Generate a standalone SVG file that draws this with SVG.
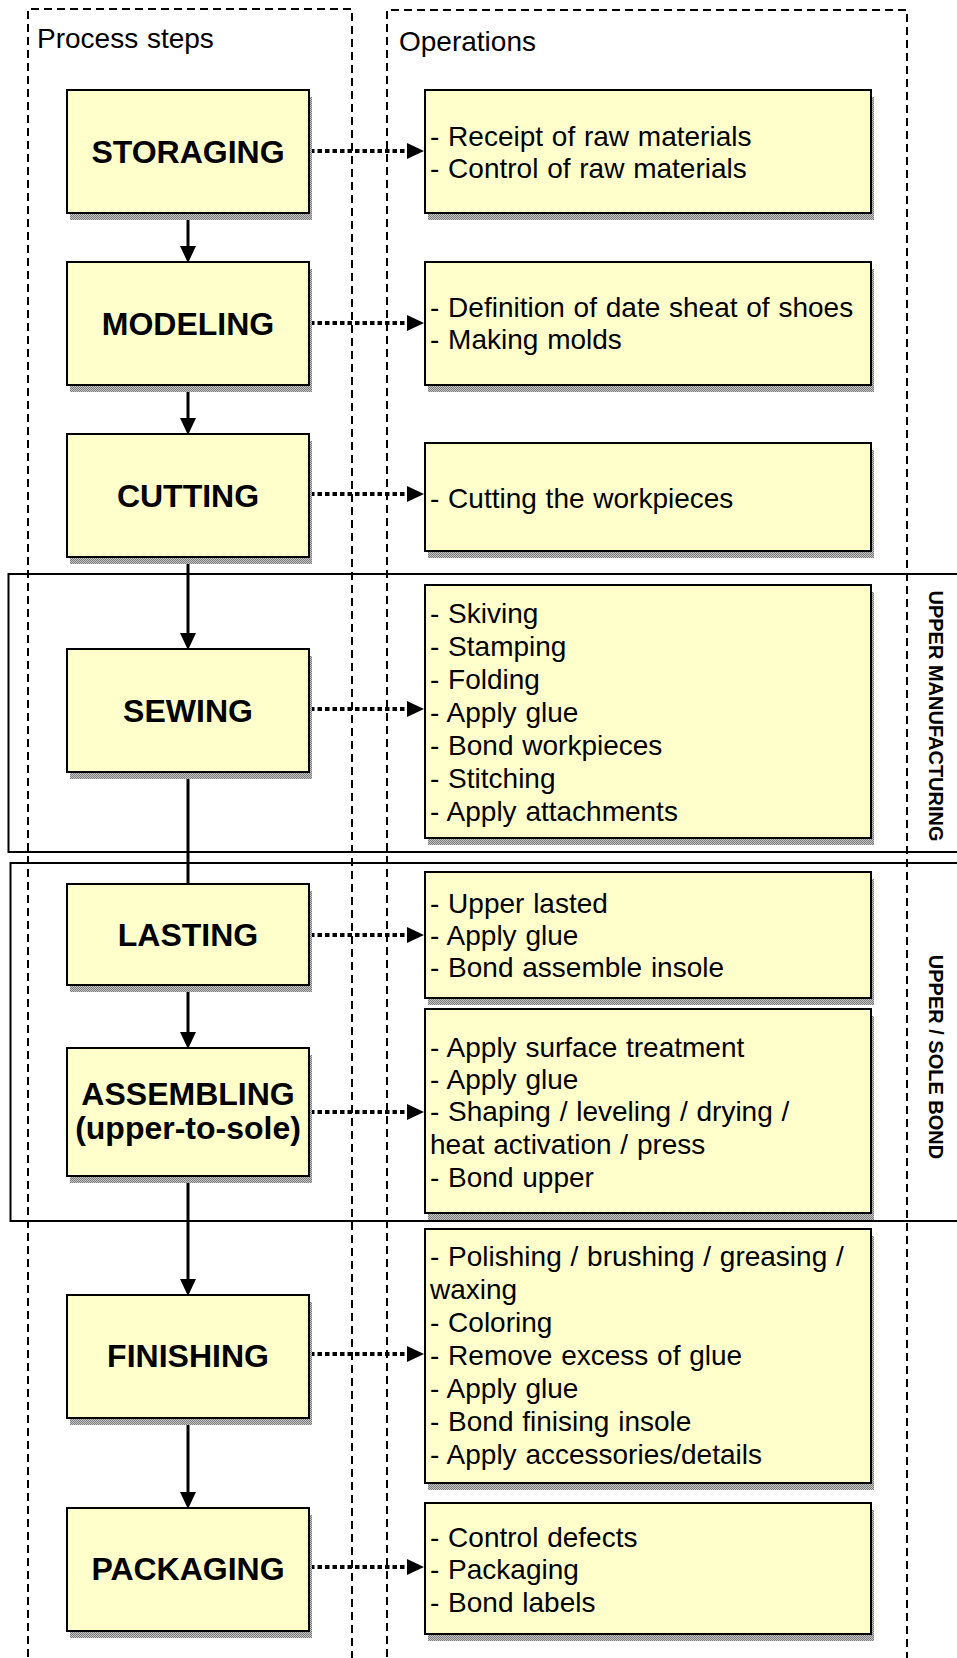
<svg xmlns="http://www.w3.org/2000/svg" width="957" height="1658" viewBox="0 0 957 1658">
<style>
.frame{fill:none;stroke:#000;stroke-width:2;stroke-dasharray:8 5}
.grp{fill:none;stroke:#000;stroke-width:2}
.box{fill:#FFFFCC;stroke:#000;stroke-width:2}
.shadow{fill:url(#stip)}
.lbl{font-family:"Liberation Sans",Arial,sans-serif;font-weight:bold;font-size:32px;text-anchor:middle;fill:#000}
.op{font-family:"Liberation Sans",Arial,sans-serif;font-size:28px;word-spacing:1px;fill:#000}
.side{font-family:"Liberation Sans",Arial,sans-serif;font-weight:bold;font-size:20px;text-anchor:middle;fill:#000}
.flow{stroke:#000;stroke-width:3;fill:none}
.dot{stroke:#000;stroke-width:4;stroke-dasharray:4.5 3;fill:none}
</style>
<defs>
<pattern id="stip" width="2" height="2" patternUnits="userSpaceOnUse">
<rect width="2" height="2" fill="#c4c4c4"/>
<rect width="1" height="1" fill="#7c7c7c"/>
<rect x="1" y="1" width="1" height="1" fill="#7c7c7c"/>
</pattern>
<marker id="ah" markerUnits="userSpaceOnUse" markerWidth="16" markerHeight="17" refX="8" refY="8" orient="auto">
<path d="M0,0 L17,8 L0,16 z" fill="#000"/>
</marker>
<marker id="dh" markerUnits="userSpaceOnUse" markerWidth="17" markerHeight="17" refX="9" refY="8" orient="auto">
<path d="M0,0 L17,8 L0,16 z" fill="#000"/>
</marker>
</defs>
<rect width="957" height="1658" fill="#fff"/>

<g id="frames">
<path class="frame" d="M28,1670 V9 H352 V1670"/>
<path class="frame" d="M387,1670 V10 H907 V1670"/>
<text class="op" x="37" y="48">Process steps</text>
<text class="op" x="399" y="51">Operations</text>
</g>

<g id="group-upper-manufacturing">
<path class="grp" d="M970,574 H8.5 V852 H970"/>
<text class="side" transform="translate(929,716) rotate(90)">UPPER MANUFACTURING</text>
</g>
<g id="group-upper-sole-bond">
<path class="grp" d="M970,863 H10.5 V1221 H970"/>
<text class="side" transform="translate(929,1057) rotate(90)">UPPER / SOLE BOND</text>
</g>

<g id="connectors">
<line class="flow" x1="188" y1="213" x2="188" y2="254" marker-end="url(#ah)"/>
<line class="flow" x1="188" y1="385" x2="188" y2="426" marker-end="url(#ah)"/>
<line class="flow" x1="188" y1="557" x2="188" y2="641" marker-end="url(#ah)"/>
<line class="flow" x1="188" y1="772" x2="188" y2="884"/>
<line class="flow" x1="188" y1="985" x2="188" y2="1040" marker-end="url(#ah)"/>
<line class="flow" x1="188" y1="1176" x2="188" y2="1287" marker-end="url(#ah)"/>
<line class="flow" x1="188" y1="1418" x2="188" y2="1500" marker-end="url(#ah)"/>
<line class="dot" x1="310" y1="151" x2="416" y2="151" marker-end="url(#dh)"/>
<line class="dot" x1="310" y1="323" x2="416" y2="323" marker-end="url(#dh)"/>
<line class="dot" x1="310" y1="494" x2="416" y2="494" marker-end="url(#dh)"/>
<line class="dot" x1="310" y1="709" x2="416" y2="709" marker-end="url(#dh)"/>
<line class="dot" x1="310" y1="935" x2="416" y2="935" marker-end="url(#dh)"/>
<line class="dot" x1="310" y1="1112" x2="416" y2="1112" marker-end="url(#dh)"/>
<line class="dot" x1="310" y1="1354" x2="416" y2="1354" marker-end="url(#dh)"/>
<line class="dot" x1="310" y1="1567" x2="416" y2="1567" marker-end="url(#dh)"/>
</g>

<g id="storaging">
<rect class="shadow" x="70" y="97" width="242" height="123"/>
<rect class="box" x="67" y="90" width="242" height="123"/>
<text class="lbl" x="188" y="163">STORAGING</text>
</g>
<g id="modeling">
<rect class="shadow" x="70" y="269" width="242" height="123"/>
<rect class="box" x="67" y="262" width="242" height="123"/>
<text class="lbl" x="188" y="335">MODELING</text>
</g>
<g id="cutting">
<rect class="shadow" x="70" y="441" width="242" height="123"/>
<rect class="box" x="67" y="434" width="242" height="123"/>
<text class="lbl" x="188" y="507">CUTTING</text>
</g>
<g id="sewing">
<rect class="shadow" x="70" y="656" width="242" height="123"/>
<rect class="box" x="67" y="649" width="242" height="123"/>
<text class="lbl" x="188" y="722">SEWING</text>
</g>
<g id="lasting">
<rect class="shadow" x="70" y="891" width="242" height="101"/>
<rect class="box" x="67" y="884" width="242" height="101"/>
<text class="lbl" x="188" y="946">LASTING</text>
</g>
<g id="assembling">
<rect class="shadow" x="70" y="1055" width="242" height="128"/>
<rect class="box" x="67" y="1048" width="242" height="128"/>
<text class="lbl" x="188" y="1105">ASSEMBLING</text>
<text class="lbl" x="188" y="1139">(upper-to-sole)</text>
</g>
<g id="finishing">
<rect class="shadow" x="70" y="1302" width="242" height="123"/>
<rect class="box" x="67" y="1295" width="242" height="123"/>
<text class="lbl" x="188" y="1367">FINISHING</text>
</g>
<g id="packaging">
<rect class="shadow" x="70" y="1515" width="242" height="123"/>
<rect class="box" x="67" y="1508" width="242" height="123"/>
<text class="lbl" x="188" y="1580">PACKAGING</text>
</g>

<g id="op-storaging">
<rect class="shadow" x="428" y="97" width="446" height="123"/>
<rect class="box" x="425" y="90" width="446" height="123"/>
<text class="op"><tspan x="430" y="146">- Receipt of raw materials</tspan><tspan x="430" y="178">- Control of raw materials</tspan></text>
</g>
<g id="op-modeling">
<rect class="shadow" x="428" y="269" width="446" height="123"/>
<rect class="box" x="425" y="262" width="446" height="123"/>
<text class="op"><tspan x="430" y="317">- Definition of date sheat of shoes</tspan><tspan x="430" y="349">- Making molds</tspan></text>
</g>
<g id="op-cutting">
<rect class="shadow" x="428" y="450" width="446" height="108"/>
<rect class="box" x="425" y="443" width="446" height="108"/>
<text class="op" x="430" y="508">- Cutting the workpieces</text>
</g>
<g id="op-sewing">
<rect class="shadow" x="428" y="592" width="446" height="253"/>
<rect class="box" x="425" y="585" width="446" height="253"/>
<text class="op"><tspan x="430" y="623">- Skiving</tspan><tspan x="430" y="656">- Stamping</tspan><tspan x="430" y="689">- Folding</tspan><tspan x="430" y="722">- Apply glue</tspan><tspan x="430" y="755">- Bond workpieces</tspan><tspan x="430" y="788">- Stitching</tspan><tspan x="430" y="821">- Apply attachments</tspan></text>
</g>
<g id="op-lasting">
<rect class="shadow" x="428" y="879" width="446" height="126"/>
<rect class="box" x="425" y="872" width="446" height="126"/>
<text class="op"><tspan x="430" y="913">- Upper lasted</tspan><tspan x="430" y="945">- Apply glue</tspan><tspan x="430" y="977">- Bond assemble insole</tspan></text>
</g>
<g id="op-assembling">
<rect class="shadow" x="428" y="1016" width="446" height="204"/>
<rect class="box" x="425" y="1009" width="446" height="204"/>
<text class="op"><tspan x="430" y="1057">- Apply surface treatment</tspan><tspan x="430" y="1089">- Apply glue</tspan><tspan x="430" y="1121">- Shaping / leveling / drying /</tspan><tspan x="430" y="1154">heat activation / press</tspan><tspan x="430" y="1187">- Bond upper</tspan></text>
</g>
<g id="op-finishing">
<rect class="shadow" x="428" y="1236" width="446" height="254"/>
<rect class="box" x="425" y="1229" width="446" height="254"/>
<text class="op"><tspan x="430" y="1266">- Polishing / brushing / greasing /</tspan><tspan x="430" y="1299">waxing</tspan><tspan x="430" y="1332">- Coloring</tspan><tspan x="430" y="1365">- Remove excess of glue</tspan><tspan x="430" y="1398">- Apply glue</tspan><tspan x="430" y="1431">- Bond finising insole</tspan><tspan x="430" y="1464">- Apply accessories/details</tspan></text>
</g>
<g id="op-packaging">
<rect class="shadow" x="428" y="1510" width="446" height="131"/>
<rect class="box" x="425" y="1503" width="446" height="131"/>
<text class="op"><tspan x="430" y="1547">- Control defects</tspan><tspan x="430" y="1579">- Packaging</tspan><tspan x="430" y="1612">- Bond labels</tspan></text>
</g>
</svg>
